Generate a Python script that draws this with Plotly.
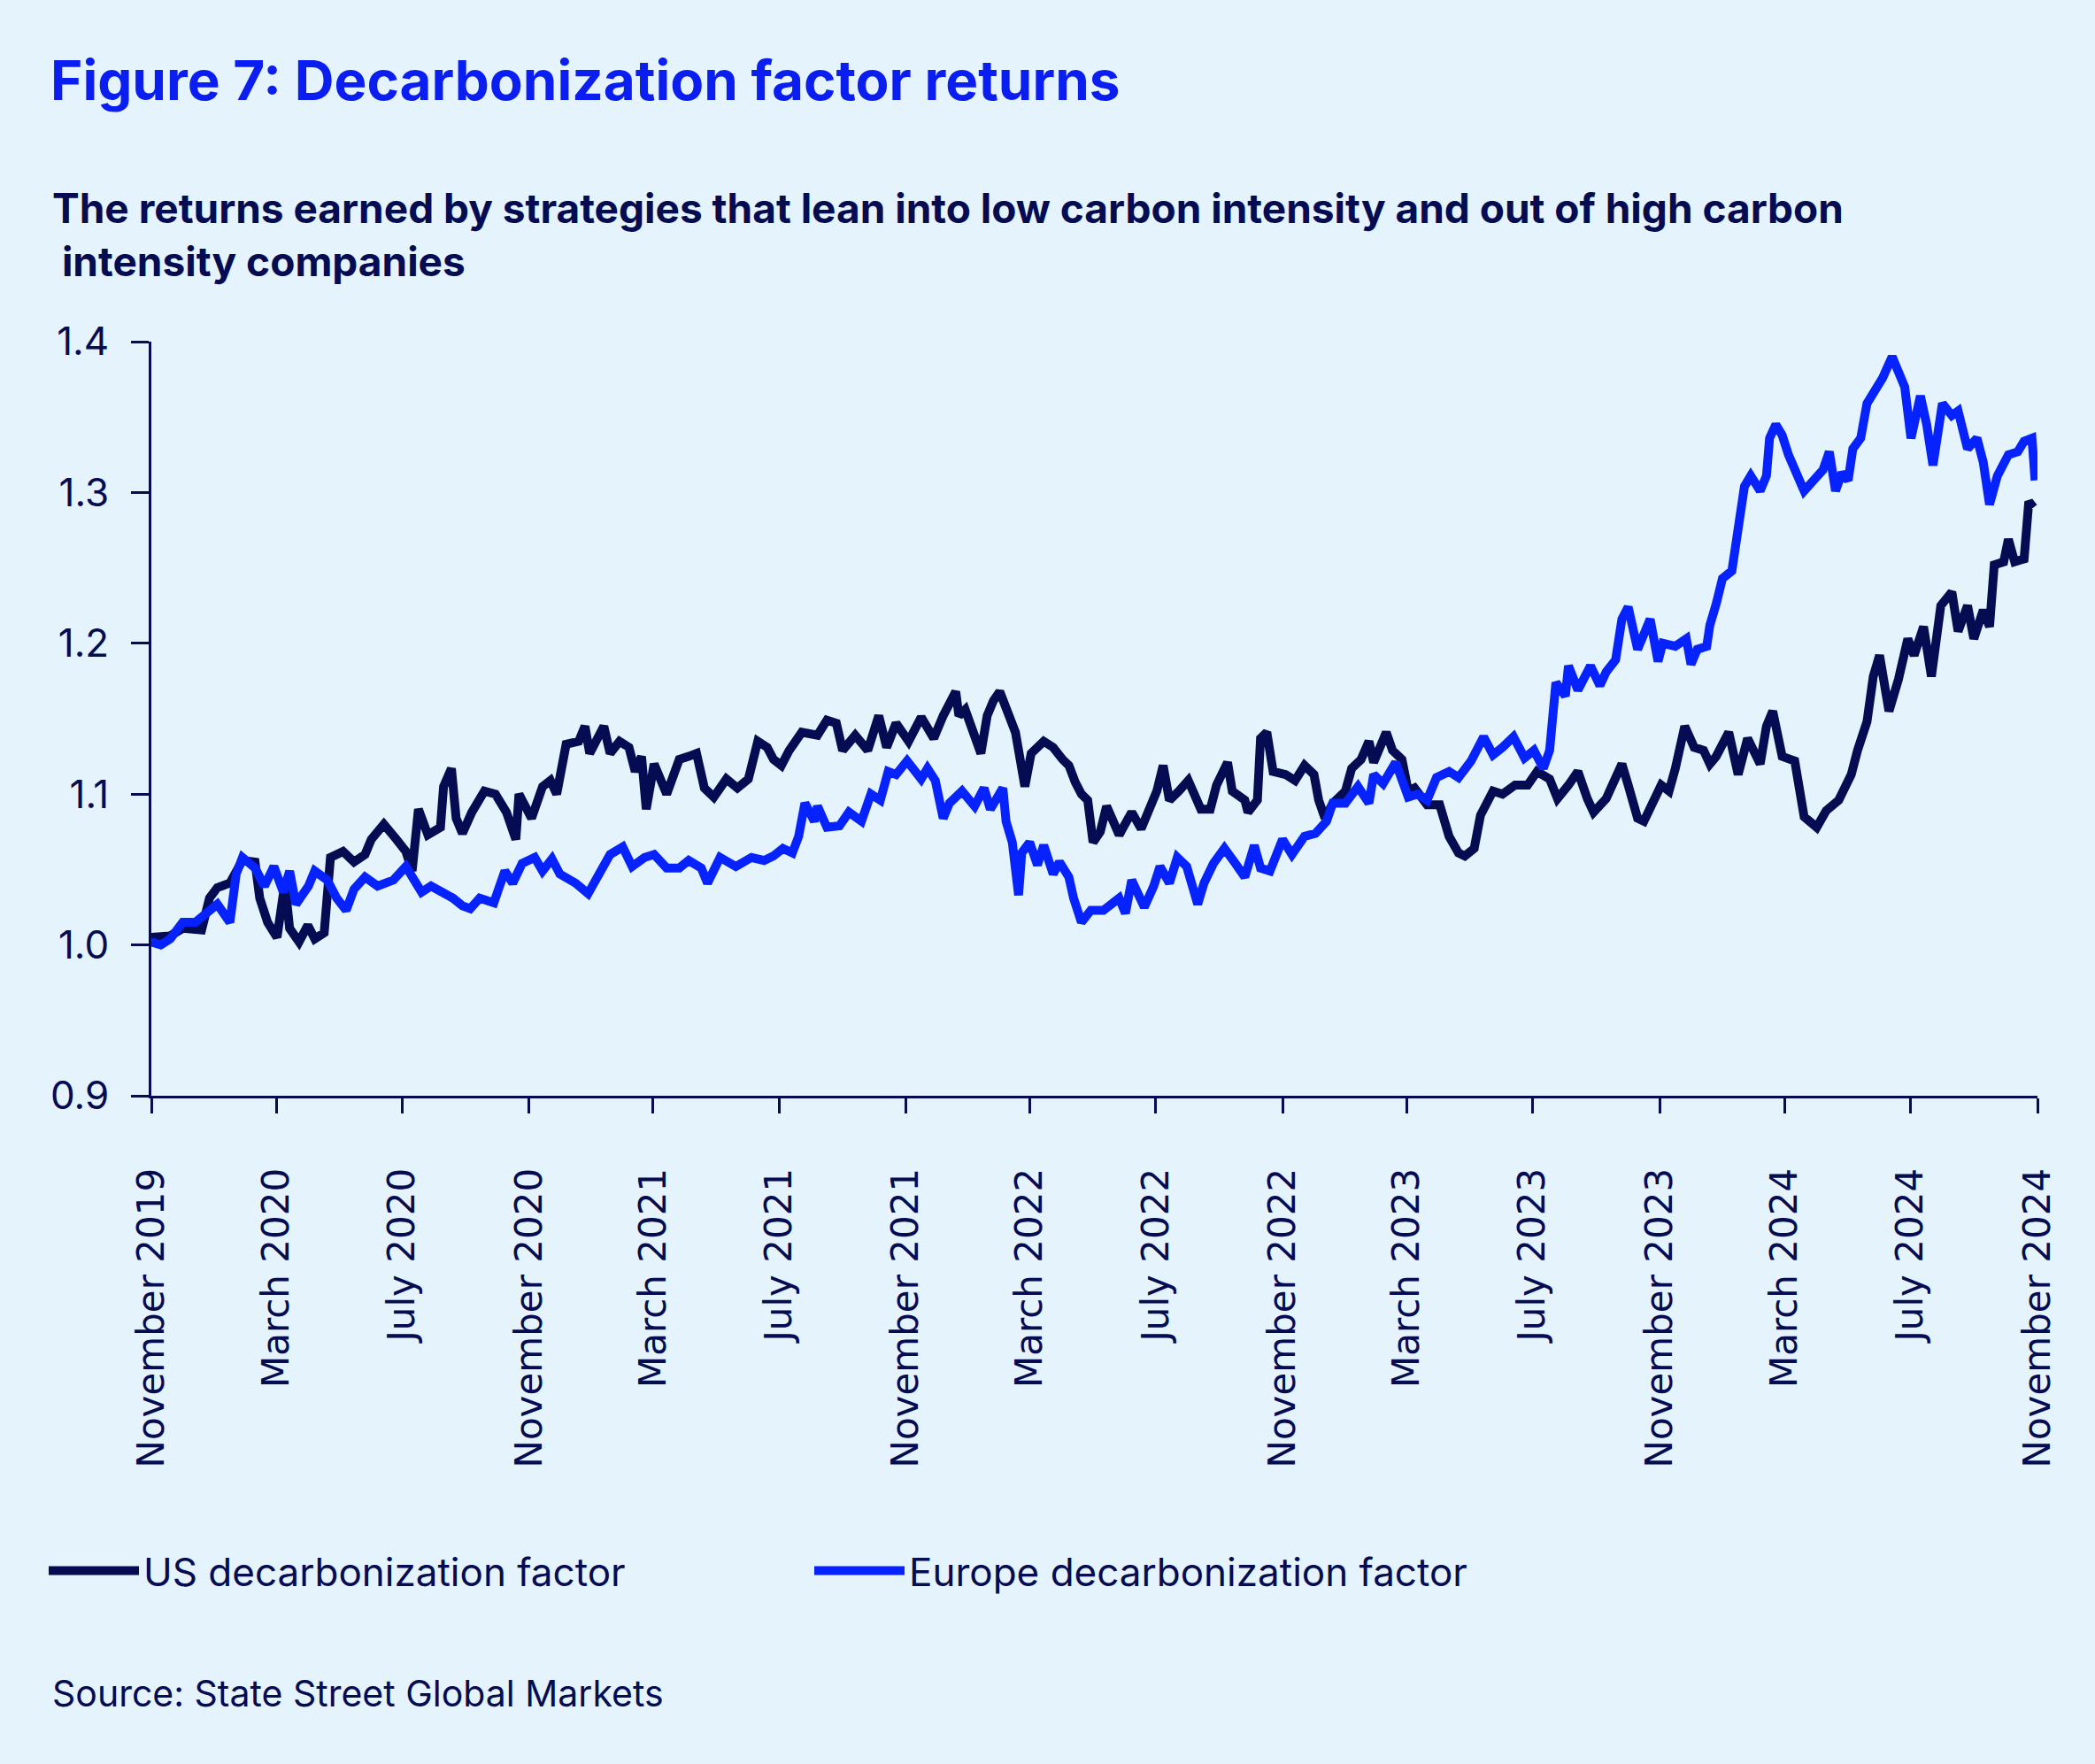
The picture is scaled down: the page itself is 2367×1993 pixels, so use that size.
import plotly.graph_objects as go
import pandas as pd

# ---------------- data (months after 1 Nov 2019, index value) ----------------
us_months = [0.0, 0.6, 1.0, 1.6, 1.85, 2.1, 2.5, 2.9, 3.3, 3.45, 3.7, 4.0, 4.25, 4.4, 4.7, 4.98, 5.2, 5.5,
             5.7, 6.1, 6.45, 6.8, 7.0, 7.4, 7.8, 8.1, 8.3, 8.5, 8.8, 9.2, 9.3, 9.55, 9.7, 9.9, 10.2, 10.6,
             10.95, 11.3, 11.6, 11.7, 12.1, 12.45, 12.7, 12.9, 13.2, 13.6, 13.8, 13.95, 14.4, 14.6, 14.9,
             15.2, 15.4, 15.6, 15.75, 16.0, 16.4, 16.8, 17.1, 17.35, 17.6, 17.9, 18.3, 18.65, 19.0, 19.3,
             19.6, 19.8, 20.05, 20.3, 20.7, 21.2, 21.5, 21.8, 22.0, 22.4, 22.8, 23.15, 23.4, 23.7, 24.1,
             24.5, 24.9, 25.2, 25.6, 25.7, 25.9, 26.4, 26.6, 26.8, 27.0, 27.3, 27.5, 27.8, 28.0, 28.4,
             28.7, 29.0, 29.2, 29.4, 29.6, 29.8, 29.97, 30.2, 30.4, 30.8, 30.9, 31.2, 31.5, 31.75, 32.0,
             32.2, 32.4, 32.7, 33.0, 33.4, 33.7, 33.9, 34.25, 34.4, 34.8, 34.9, 35.2, 35.3, 35.5, 35.7,
             36.1, 36.4, 36.7, 37.0, 37.15, 37.35, 37.6, 38.0, 38.2, 38.5, 38.75, 38.9, 39.3, 39.5, 39.8,
             40.0, 40.2, 40.6, 41.0, 41.3, 41.6, 41.8, 42.1, 42.3, 42.7, 43.0, 43.4, 43.8, 44.1, 44.5,
             44.75, 45.1, 45.4, 45.7, 45.9, 46.3, 46.6, 46.8, 47.0, 47.3, 47.5, 47.8, 48.05, 48.3, 48.5,
             48.8, 49.1, 49.4, 49.6, 49.8, 50.2, 50.5, 50.8, 51.2, 51.4, 51.6, 51.9, 52.3, 52.45, 52.6,
             53.0, 53.3, 53.7, 54.1, 54.3, 54.6, 54.8, 55.0, 55.3, 55.6, 55.9, 56.1, 56.4, 56.65, 56.95,
             57.3, 57.5, 57.8, 58.0, 58.3, 58.5, 58.65, 58.95, 59.1, 59.3, 59.6, 59.75, 59.9]
us_values = [1.005, 1.006, 1.011, 1.010, 1.031, 1.038, 1.041, 1.056, 1.055, 1.031, 1.015, 1.005, 1.041, 1.011,
             1.002, 1.013, 1.004, 1.008, 1.058, 1.062, 1.055, 1.060, 1.070, 1.080, 1.070, 1.062, 1.049, 1.090,
             1.073, 1.078, 1.105, 1.117, 1.084, 1.074, 1.088, 1.102, 1.100, 1.088, 1.070, 1.100, 1.084, 1.105,
             1.109, 1.100, 1.133, 1.135, 1.145, 1.127, 1.145, 1.127, 1.135, 1.131, 1.115, 1.125, 1.090, 1.120,
             1.100, 1.123, 1.125, 1.127, 1.104, 1.098, 1.110, 1.104, 1.110, 1.135, 1.131, 1.123, 1.119, 1.129,
             1.141, 1.139, 1.149, 1.147, 1.129, 1.139, 1.129, 1.152, 1.131, 1.147, 1.135, 1.151, 1.137, 1.152,
             1.168, 1.152, 1.156, 1.127, 1.152, 1.162, 1.168, 1.151, 1.141, 1.105, 1.127, 1.135, 1.131, 1.123,
             1.119, 1.108, 1.100, 1.096, 1.068, 1.075, 1.092, 1.073, 1.077, 1.088, 1.077, 1.090, 1.102, 1.119,
             1.096, 1.102, 1.109, 1.090, 1.090, 1.106, 1.121, 1.102, 1.096, 1.088, 1.096, 1.137, 1.141, 1.115,
             1.113, 1.109, 1.119, 1.113, 1.096, 1.084, 1.094, 1.102, 1.117, 1.123, 1.135, 1.121, 1.141, 1.129,
             1.123, 1.102, 1.104, 1.093, 1.093, 1.072, 1.061, 1.059, 1.064, 1.086, 1.102, 1.100, 1.106, 1.106,
             1.115, 1.110, 1.097, 1.106, 1.115, 1.097, 1.088, 1.097, 1.110, 1.120, 1.106, 1.084, 1.082, 1.095,
             1.106, 1.102, 1.117, 1.145, 1.131, 1.129, 1.120, 1.125, 1.141, 1.113, 1.137, 1.120, 1.145, 1.155,
             1.125, 1.122, 1.099, 1.085, 1.078, 1.089, 1.096, 1.113, 1.129, 1.148, 1.178, 1.192, 1.155, 1.176,
             1.203, 1.192, 1.211, 1.178, 1.225, 1.234, 1.208, 1.225, 1.203, 1.222, 1.211, 1.252, 1.254, 1.269,
             1.254, 1.256, 1.294, 1.290]

eu_months = [0.0, 0.3, 0.6, 1.0, 1.4, 1.8, 2.1, 2.5, 2.7, 2.9, 3.3, 3.6, 3.9, 4.2, 4.4, 4.6, 5.0, 5.2, 5.6,
             5.9, 6.2, 6.45, 6.8, 7.2, 7.7, 8.1, 8.6, 8.9, 9.27, 9.6, 9.9, 10.15, 10.45, 10.9, 11.25, 11.5,
             11.8, 12.2, 12.45, 12.75, 13.0, 13.5, 13.9, 14.2, 14.6, 15.0, 15.3, 15.7, 16.0, 16.4, 16.8,
             17.1, 17.5, 17.7, 18.1, 18.6, 19.1, 19.5, 19.8, 20.1, 20.4, 20.6, 20.8, 21.1, 21.2, 21.5, 21.9,
             22.2, 22.6, 22.9, 23.2, 23.45, 23.7, 24.05, 24.5, 24.7, 24.95, 25.2, 25.4, 25.8, 26.2, 26.5,
             26.7, 27.1, 27.2, 27.4, 27.6, 27.7, 27.95, 28.2, 28.4, 28.7, 28.9, 29.2, 29.35, 29.6, 29.9,
             30.3, 30.8, 31.0, 31.2, 31.6, 31.9, 32.1, 32.4, 32.65, 32.95, 33.3, 33.5, 33.8, 34.15, 34.5,
             34.8, 35.1, 35.3, 35.6, 36.0, 36.3, 36.7, 37.05, 37.4, 37.6, 38.0, 38.4, 38.75, 38.9, 39.2,
             39.6, 40.0, 40.3, 40.6, 40.9, 41.3, 41.6, 42.0, 42.4, 42.7, 43.0, 43.35, 43.7, 44.0, 44.3,
             44.5, 44.7, 45.0, 45.1, 45.4, 45.8, 46.1, 46.3, 46.6, 46.8, 47.0, 47.3, 47.7, 47.95, 48.1,
             48.5, 48.85, 49.0, 49.2, 49.5, 49.6, 49.8, 50.0, 50.3, 50.5, 50.7, 50.9, 51.2, 51.4, 51.5,
             51.7, 51.9, 52.1, 52.3, 52.6, 52.9, 53.2, 53.4, 53.6, 53.8, 54.0, 54.15, 54.4, 54.6, 54.9,
             55.1, 55.4, 55.6, 55.8, 56.0, 56.3, 56.5, 56.7, 57.0, 57.3, 57.5, 57.8, 58.1, 58.3, 58.5,
             58.75, 59.1, 59.4, 59.6, 59.85, 59.95]
eu_values = [1.002, 1.000, 1.004, 1.015, 1.015, 1.023, 1.027, 1.015, 1.047, 1.058, 1.051, 1.039, 1.052, 1.035,
             1.049, 1.027, 1.039, 1.049, 1.043, 1.031, 1.023, 1.037, 1.045, 1.039, 1.043, 1.052, 1.035, 1.039,
             1.035, 1.031, 1.026, 1.024, 1.031, 1.028, 1.049, 1.041, 1.054, 1.058, 1.049, 1.057, 1.047, 1.041,
             1.034, 1.045, 1.060, 1.065, 1.052, 1.058, 1.060, 1.051, 1.051, 1.056, 1.051, 1.041, 1.058, 1.052,
             1.058, 1.056, 1.059, 1.064, 1.061, 1.072, 1.094, 1.082, 1.092, 1.078, 1.079, 1.088, 1.082, 1.100,
             1.096, 1.115, 1.113, 1.122, 1.110, 1.117, 1.109, 1.084, 1.094, 1.102, 1.092, 1.104, 1.090, 1.104,
             1.082, 1.068, 1.033, 1.061, 1.068, 1.053, 1.066, 1.047, 1.055, 1.045, 1.031, 1.015, 1.023, 1.023,
             1.031, 1.021, 1.043, 1.025, 1.039, 1.052, 1.041, 1.058, 1.052, 1.027, 1.041, 1.054, 1.064, 1.054,
             1.045, 1.066, 1.051, 1.049, 1.070, 1.060, 1.072, 1.074, 1.082, 1.094, 1.094, 1.105, 1.094, 1.113,
             1.107, 1.121, 1.098, 1.100, 1.096, 1.111, 1.115, 1.111, 1.122, 1.138, 1.126, 1.131, 1.138, 1.124,
             1.129, 1.117, 1.129, 1.174, 1.165, 1.185, 1.169, 1.185, 1.172, 1.181, 1.189, 1.216, 1.224, 1.196,
             1.216, 1.188, 1.200, 1.198, 1.203, 1.186, 1.196, 1.198, 1.212, 1.226, 1.243, 1.248, 1.276, 1.304,
             1.311, 1.301, 1.311, 1.336, 1.345, 1.338, 1.325, 1.315, 1.301, 1.308, 1.315, 1.327, 1.301, 1.313,
             1.308, 1.329, 1.336, 1.359, 1.369, 1.376, 1.390, 1.381, 1.370, 1.336, 1.364, 1.345, 1.318, 1.359,
             1.351, 1.354, 1.329, 1.336, 1.320, 1.292, 1.311, 1.325, 1.327, 1.334, 1.336, 1.308]

tick_dates = ["2019-11-01", "2020-03-01", "2020-07-01", "2020-11-01", "2021-03-01", "2021-07-01",
              "2021-11-01", "2022-03-01", "2022-07-01", "2022-11-01", "2023-03-01", "2023-07-01",
              "2023-11-01", "2024-03-01", "2024-07-01", "2024-11-01"]
tick_labels = ["November 2019", "March 2020", "July 2020", "November 2020", "March 2021", "July 2021",
               "November 2021", "March 2022", "July 2022", "November 2022", "March 2023", "July 2023",
               "November 2023", "March 2024", "July 2024", "November 2024"]
y_ticks = [0.9, 1.0, 1.1, 1.2, 1.3, 1.4]

series_names = ["US decarbonization factor", "Europe decarbonization factor"]

# ---------------- build ----------------
start = pd.Timestamp("2019-11-01")


def to_dates(months):
    return [start + pd.Timedelta(days=m * 30.437) for m in months]


W, H = 2367, 1993
BG = "#E5F3FC"
NAVY = "#050C52"
BLUE = "#0522FF"
FONT = "Inter"
PLOT_TOP, PLOT_BOTTOM, PLOT_LEFT, PLOT_RIGHT = 386, 1238, 171, 2302

fig = go.Figure()
fig.add_trace(go.Scatter(x=to_dates(us_months), y=us_values, mode="lines", name=series_names[0],
                         line=dict(color=NAVY, width=10)))
fig.add_trace(go.Scatter(x=to_dates(eu_months), y=eu_values, mode="lines", name=series_names[1],
                         line=dict(color=BLUE, width=10)))

ph = PLOT_BOTTOM - PLOT_TOP
pw = PLOT_RIGHT - PLOT_LEFT

fig.update_layout(
    width=W, height=H,
    paper_bgcolor=BG, plot_bgcolor=BG,
    margin=dict(l=PLOT_LEFT, r=W - PLOT_RIGHT, t=PLOT_TOP, b=H - PLOT_BOTTOM),
    font=dict(family=FONT, color=NAVY),
    title=dict(text="Figure 7: Decarbonization factor returns",
               x=57 / W, xanchor="left", xref="container",
               y=1 - 91 / H, yanchor="middle", yref="container",
               font=dict(family=FONT, size=62, weight=700, color="#0A1EF2")),
    showlegend=True,
    legend=dict(orientation="h", xref="container", yref="container",
                x=50 / W, xanchor="left", y=1 - 1775 / H, yanchor="middle",
                font=dict(family=FONT, size=44, color=NAVY),
                bgcolor="rgba(0,0,0,0)", entrywidth=748, entrywidthmode="pixels",
                itemwidth=102, traceorder="normal"),
    xaxis=dict(type="date", range=[tick_dates[0], tick_dates[-1]],
               tickmode="array", tickvals=tick_dates, ticktext=tick_labels,
               tickangle=-90, ticks="outside", ticklen=17, tickwidth=3, tickcolor=NAVY,
               showline=True, linecolor=NAVY, linewidth=3, showgrid=False, zeroline=False,
               ticklabelstandoff=45,
               tickfont=dict(family="DejaVu Sans", size=42, color=NAVY)),
    yaxis=dict(range=[0.9, 1.4], tickmode="array", tickvals=y_ticks, tickformat=".1f",
               ticks="outside", ticklen=20, tickwidth=3, tickcolor=NAVY,
               showline=True, linecolor=NAVY, linewidth=3, showgrid=False, zeroline=False,
               ticklabelstandoff=16,
               tickfont=dict(family=FONT, size=44, color=NAVY)),
    annotations=[
        dict(text="The returns earned by strategies that lean into low carbon intensity and out of high carbon"
                  "<br>\u00a0intensity companies",
             xref="paper", yref="paper", x=(57 - PLOT_LEFT) / pw, xanchor="left",
             y=1 + (PLOT_TOP - 205) / ph, yanchor="top", align="left", showarrow=False,
             font=dict(family=FONT, size=46, weight=700, color=NAVY)),
        dict(text="Source: State Street Global Markets",
             xref="paper", yref="paper", x=(57 - PLOT_LEFT) / pw, xanchor="left",
             y=-(1913 - PLOT_BOTTOM) / ph, yanchor="middle", showarrow=False,
             font=dict(family=FONT, size=41, color=NAVY)),
    ],
)

fig.write_html("out.html", config={"displayModeBar": False},
               post_script="document.body.style.margin='0';")
